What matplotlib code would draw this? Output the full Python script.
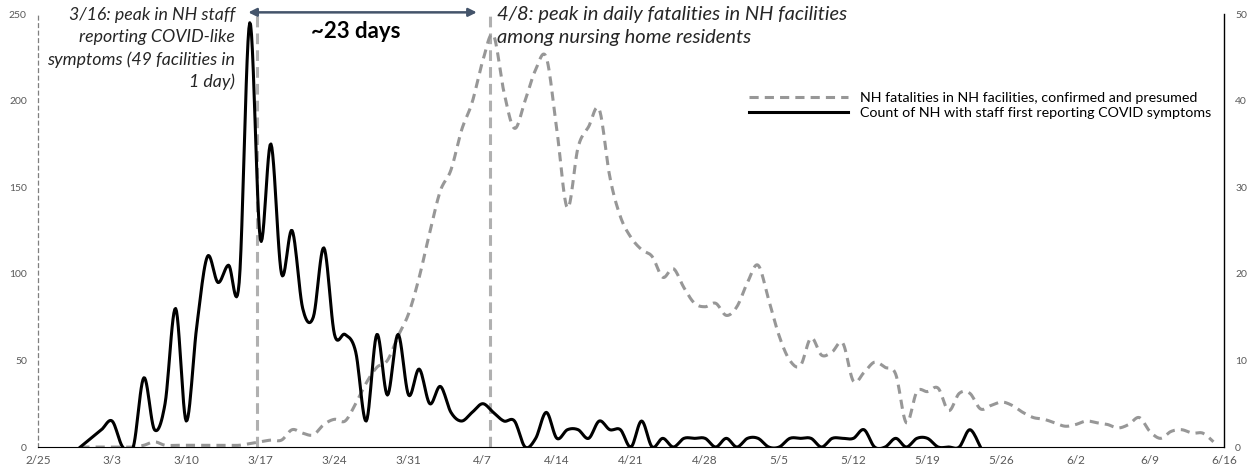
import numpy as np
import matplotlib
matplotlib.use('Agg')
import matplotlib.pyplot as plt

plt.rcParams['font.family'] = ['Lato', 'DejaVu Sans']

# day index 0 = 2/25
tick_days = list(range(0, 113, 7))
tick_labels = ['2/25', '3/3', '3/10', '3/17', '3/24', '3/31', '4/7', '4/14', '4/21',
               '4/28', '5/5', '5/12', '5/19', '5/26', '6/2', '6/9', '6/16']

# NH fatalities in NH facilities (left axis), from 2/29
fatal_start = 4
fatalities = [0, 0, 0, 0, 0, 0, 1, 3, 1, 1, 1, 1, 1, 1, 1, 1, 2, 3, 4, 4,
              10, 8, 7, 13, 16, 15, 25, 37, 46, 50, 64, 77, 98, 124, 148, 160, 183, 199, 223, 238,
              205, 184, 200, 218, 225, 183, 138, 173, 185, 195, 156, 133, 121, 114, 110, 98, 103, 92, 83, 81,
              83, 76, 81, 95, 105, 85, 64, 50, 47, 63, 53, 55, 60, 38, 43, 49, 46, 42, 14, 32,
              32, 34, 21, 31, 31, 22, 24, 26, 24, 20, 17, 16, 14, 12, 13, 15, 14, 13, 11, 13,
              17, 9, 5, 9, 10, 8, 8, 3]

# count of NH with staff first reporting COVID symptoms (right axis), from 2/29
staff_start = 4
staff = [0, 1, 2, 3, 0, 0, 8, 2, 5, 16, 3, 14, 22, 19, 21, 19, 49, 24, 35, 20,
         25, 16, 15, 23, 13, 13, 11, 3, 13, 6, 13, 6, 9, 5, 7, 4, 3, 4, 5, 4,
         3, 3, 0, 1, 4, 1, 2, 2, 1, 3, 2, 2, 0, 3, 0, 1, 0, 1, 1, 1,
         0, 1, 0, 1, 1, 0, 0, 1, 1, 1, 0, 1, 1, 1, 2, 0, 0, 1, 0, 1,
         1, 0, 0, 0, 2, 0]

peak_staff_day = 20.7   # 3/16 marker
peak_fatal_day = 42.7   # 4/8 marker


def smooth(x, y, n=12):
    # Catmull-Rom curve through the points, like a smoothed Excel line
    x = np.asarray(x, float)
    y = np.asarray(y, float)
    px = np.concatenate([[x[0]], x, [x[-1]]])
    py = np.concatenate([[y[0]], y, [y[-1]]])
    xs, ys = [], []
    t = np.linspace(0, 1, n, endpoint=False)
    for i in range(1, len(px) - 2):
        for arr, out in ((px, xs), (py, ys)):
            p0, p1, p2, p3 = arr[i - 1], arr[i], arr[i + 1], arr[i + 2]
            out.extend(0.5 * ((2 * p1) + (-p0 + p2) * t +
                              (2 * p0 - 5 * p1 + 4 * p2 - p3) * t ** 2 +
                              (-p0 + 3 * p1 - 3 * p2 + p3) * t ** 3))
    xs.append(x[-1])
    ys.append(y[-1])
    return np.array(xs), np.array(ys)


fig = plt.figure(figsize=(12.49, 4.65), dpi=100)
ax = fig.add_axes([0.0304, 0.0387, 0.9496, 0.931])
ax2 = ax.twinx()

fx, fy = smooth(np.arange(len(fatalities)) + fatal_start, fatalities)
sx, sy = smooth(np.arange(len(staff)) + staff_start, staff)

l1, = ax.plot(fx, fy, color='#979797', lw=2.2, ls=(0, (3, 2)),
              label='NH fatalities in NH facilities, confirmed and presumed')
l2, = ax2.plot(sx, sy, color='black', lw=2.2,
               label='Count of NH with staff first reporting COVID symptoms')

for d in (peak_staff_day, peak_fatal_day):
    ax.axvline(d, ymin=0, ymax=1.005, color='#b0b0b0', lw=2.2, ls=(0, (3.5, 2)), clip_on=False, zorder=1)

ax.set_xlim(0, 112)
ax.set_ylim(0, 250)
ax2.set_ylim(0, 50)
ax.set_xticks(tick_days)
ax.set_xticklabels(tick_labels)
ax.set_yticks(range(0, 251, 50))
ax2.set_yticks(range(0, 51, 10))

for a in (ax, ax2):
    a.tick_params(length=0, labelsize=7.5, labelcolor='#595959')
    a.spines['top'].set_visible(False)
ax.tick_params(axis='x', labelsize=8.5, pad=6)
ax.tick_params(axis='y', pad=8)
ax2.tick_params(axis='y', pad=8)
ax.spines['left'].set_linestyle((0, (3, 3)))
ax.spines['left'].set_color('#7f7f7f')
ax.spines['left'].set_linewidth(0.9)
ax2.spines['left'].set_visible(False)
ax.spines['right'].set_visible(False)
ax2.spines['right'].set_color('black')
ax2.spines['right'].set_linewidth(1.0)
ax.spines['bottom'].set_color('black')
ax2.spines['bottom'].set_visible(False)

# arrow between the two peaks
ax.annotate('', xy=(19.6, 251), xytext=(41.7, 251), xycoords='data',
            arrowprops=dict(arrowstyle='<|-|>', color='#44546a', lw=1.8, mutation_scale=12),
            annotation_clip=False)
ax.text(30, 240, '~23 days', ha='center', va='center', fontsize=16, fontweight='bold')

ax.text(18.6, 254, '3/16: peak in NH staff\nreporting COVID-like\nsymptoms (49 facilities in\n1 day)',
        ha='right', va='top', fontsize=12.8, style='italic', color='#262626', linespacing=1.45)
ax.text(43.3, 254.5, '4/8: peak in daily fatalities in NH facilities\namong nursing home residents',
        ha='left', va='top', fontsize=14.5, style='italic', color='#262626', linespacing=1.42)

ax2.legend(handles=[l1, l2], loc='upper right', bbox_to_anchor=(1.0, 0.85), frameon=False,
           fontsize=10.3, handlelength=6.9, handletextpad=0.85, labelspacing=0.22)

fig.savefig('out.png', dpi=100)
